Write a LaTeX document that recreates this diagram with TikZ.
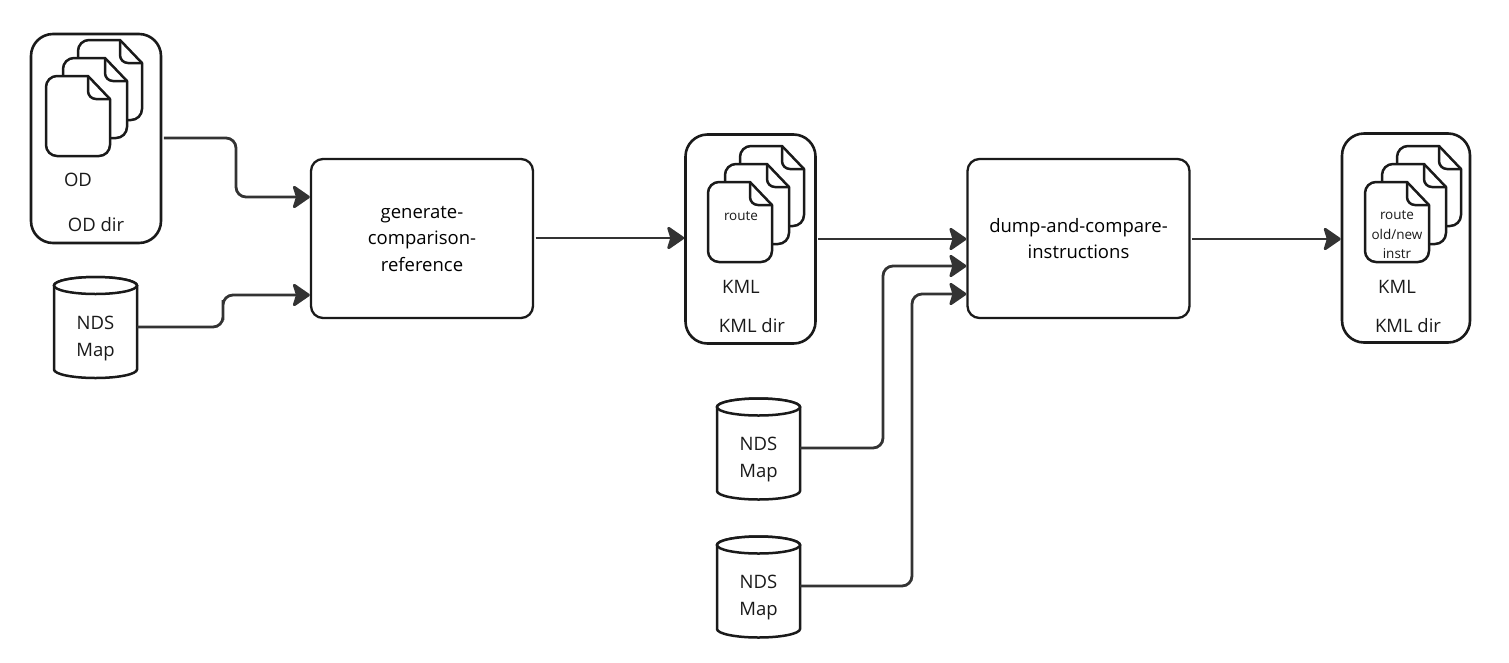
\documentclass[tikz,border=0pt]{standalone}
\usepackage{fontspec}
\setmainfont{Open Sans}
\usetikzlibrary{arrows.meta,calc}
\definecolor{ink}{HTML}{1A1A1A}
\definecolor{wire}{HTML}{333333}
\tikzset{
  x=1pt,y=-1pt,
  dirbox/.style={draw=ink,line width=2.6pt,rounded corners=22pt,fill=white,minimum width=#1,minimum height=209pt,inner sep=0pt},
  dirbox/.default=130pt,
  procbox/.style={draw=ink,line width=2.3pt,rounded corners=12pt,fill=white,minimum width=222pt,minimum height=159pt,align=center,inner sep=0pt,font=\fontsize{18.5}{26.5}\selectfont},
  label/.style={inner sep=0pt,text=ink,font=\fontsize{18.5}{22}\selectfont,align=center},
  smalllabel/.style={inner sep=0pt,text=ink,font=\fontsize{13.5}{19.5}\selectfont,align=center},
  cylnode/.style={minimum width=83pt,minimum height=101pt,inner sep=0pt,align=center,text=ink,font=\fontsize{18.5}{27}\selectfont},
  wirearrow/.style={draw=wire,line width=2.8pt,rounded corners=10pt,-{Stealth[round,length=19pt,width=26pt,inset=4pt]}},
  pics/sheet/.style={code={
    \draw[draw=ink,line width=2.5pt,fill=white,line join=round]
      (11,0) -- (42,0) -- (64,23) -- (64,69) arc[start angle=0,end angle=90,radius=11] -- (11,80)
      arc[start angle=90,end angle=180,radius=11] -- (0,11) arc[start angle=180,end angle=270,radius=11] -- cycle;
    \draw[draw=ink,line width=2.5pt,line join=round] (42,0) -- (42,15) arc[start angle=180,end angle=90,radius=8] -- (64,23);
  }},
  pics/stack/.style={code={
    \pic at (32,-36) {sheet};
    \pic at (17,-18) {sheet};
    \pic at (0,0) {sheet};
  }},
  pics/cyl/.style={code={
    \draw[draw=ink,line width=2.5pt,fill=white]
      (-41.5,-42) arc[start angle=180,end angle=360,x radius=41.5,y radius=8.5]
      -- (41.5,42) arc[start angle=0,end angle=180,x radius=41.5,y radius=8.5] -- cycle;
    \draw[draw=ink,line width=2.5pt,fill=white] (0,-42) ellipse[x radius=41.5,y radius=8.5];
  }},
}
\begin{document}
\begin{tikzpicture}
\useasboundingbox (0,0) rectangle (1509,662);

% directories
\node[dirbox=130pt] (oddir) at (96,138.5) {};
\node[dirbox=130pt] (kmldirA) at (750.5,239) {};
\node[dirbox=128pt] (kmldirB) at (1406,238) {};
\pic at (46,76) {stack};
\pic at (708,182) {stack};
\pic at (1365,182) {stack};

\node[label] (odlabel) at (78,180) {OD};
\node[label] (oddirlabel) at (96,225) {OD dir};
\node[smalllabel] (routeA) at (741,216) {route};
\node[label] (kmlA) at (741,287) {KML};
\node[label] (kmldirAlabel) at (752,326) {KML dir};
\node[smalllabel] (routeB) at (1397,235) {route\\old/new\\instr};
\node[label] (kmlB) at (1397,287) {KML};
\node[label] (kmldirBlabel) at (1408,326) {KML dir};

% processes
\node[procbox] (gen) at (422,238.5) {generate-\\comparison-\\reference};
\node[procbox] (dump) at (1078.5,238.5) {dump-and-compare-\\instructions};

% maps
\pic at (95.5,327.5) {cyl};
\pic at (758.5,449) {cyl};
\pic at (758.5,587) {cyl};
\node[cylnode] (mapA) at (95.5,339) {NDS\\Map};
\node[cylnode] (mapB) at (758.5,460) {NDS\\Map};
\node[cylnode] (mapC) at (758.5,598) {NDS\\Map};

% connectors
\coordinate (inA) at (gen.west |- 0,197);
\coordinate (inB) at (gen.west |- 0,295);
\coordinate (inD) at (dump.west |- 0,266);
\coordinate (inE) at (dump.west |- 0,294);
\draw[wirearrow] (oddir.east |- 0,138) ++(1.5,0) -| (236,170) |- (inA);
\draw[wirearrow] (mapA.east |- 0,327) -| (223,310) |- (inB);
\draw[wirearrow] (gen.east |- 0,238) ++(1.5,0) -- (kmldirA.west |- 0,238);
\draw[wirearrow] (kmldirA.east |- 0,239) ++(1.5,0) -- (dump.west |- 0,239);
\draw[wirearrow] (mapB.east |- 0,448) -| (883,350) |- (inD);
\draw[wirearrow] (mapC.east |- 0,586) -| (912,400) |- (inE);
\draw[wirearrow] (dump.east |- 0,239) ++(1.5,0) -- (kmldirB.west |- 0,239);
\end{tikzpicture}
\end{document}
